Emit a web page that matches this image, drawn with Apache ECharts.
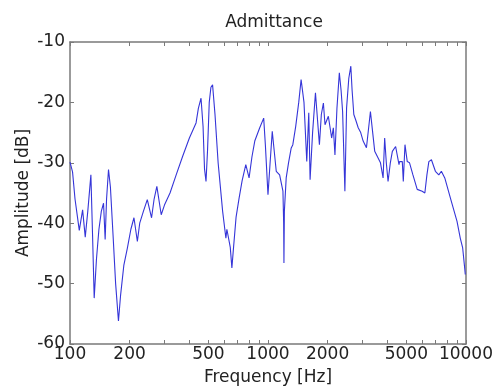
<!DOCTYPE html>
<html>
<head>
<meta charset="utf-8">
<script src="https://cdn.jsdelivr.net/npm/echarts@6/dist/echarts.min.js"></script>
<style>html,body{margin:0;padding:0;background:#fff}#c{width:496px;height:392px}</style>
</head>
<body>
<div id="c"></div>
<script>
var titleText = 'Admittance';
var xName = 'Frequency [Hz]';
var yName = 'Amplitude [dB]';
var xLabelValues = [100, 200, 500, 1000, 2000, 5000, 10000];
var xTickValues = [100, 200, 300, 400, 500, 600, 700, 800, 900, 1000, 2000, 3000, 4000, 5000, 6000, 7000, 8000, 9000, 10000];
var freqs = [100, 103, 106, 111.4, 115.8, 119.4, 123, 127.5, 130, 132.5, 136, 140, 144, 147.7, 150.5, 153, 156.5, 160, 165, 170, 175.7, 180, 187, 195, 203, 210.4, 214.6, 218.9, 225, 235, 245.7, 258.2, 266, 274.6, 288.9, 300, 320, 343.8, 370, 400.9, 420, 433.2, 445, 459, 470, 478, 486.4, 495, 505, 515, 525, 540, 560, 590, 613, 620, 631.8, 645, 657.1, 670, 690, 715, 740, 772.6, 802.6, 830, 857.6, 908.5, 951.4, 970, 1000, 1025, 1051, 1075, 1101, 1145, 1190, 1200, 1204, 1210, 1236, 1270, 1309, 1335, 1380, 1430, 1470, 1520, 1570, 1607, 1632, 1680, 1737, 1763, 1819, 1860, 1905, 1941, 2018, 2097, 2139, 2179, 2230, 2293, 2340, 2382, 2446, 2495, 2560, 2621, 2660, 2714, 2780, 2856, 2940, 3025, 3143, 3292, 3380, 3461, 3600, 3700, 3814, 3885, 3960, 4041, 4150, 4248, 4413, 4590, 4620, 4769, 4825, 4920, 5052, 5188, 5397, 5672, 6009, 6200, 6350, 6494, 6693, 7008, 7290, 7513, 7816, 8340, 9013, 9364, 9625, 9851, 9920, 10000];
var amps = [-29.9, -31.5, -36, -41.2, -37.8, -42.3, -38, -32.0, -42, -52.4, -46, -41, -38, -36.7, -42.7, -36, -31.1, -34, -42, -50, -56.2, -52, -47, -44.1, -41, -39.1, -38.9, -43.0, -40, -38, -36.1, -39.1, -36, -33.9, -38.6, -37, -35, -32.0, -29, -25.9, -24.4, -23.4, -21, -19.3, -24, -31, -33.1, -28, -20, -17.5, -17.1, -22, -30, -38, -42.5, -41, -40.8, -44, -47.4, -44, -39, -35.8, -33, -30.3, -32.5, -29, -26.4, -24.2, -22.6, -27, -35.3, -30, -24.8, -28, -31.4, -32.0, -34.7, -40, -46.6, -38, -32.5, -30, -27.6, -27.0, -24, -20, -16.2, -20, -29.8, -21.7, -32.8, -25, -18.4, -18.4, -27.0, -22, -20.1, -23.7, -22.3, -25.9, -24.2, -28.7, -21, -15.1, -18, -21.5, -34.7, -20.9, -16, -14.0, -18, -22.0, -23, -24.2, -25, -26.4, -27.5, -21.5, -25, -28.1, -29.2, -30, -32.5, -25.9, -30, -33.1, -30, -28.1, -27.3, -30.3, -29.8, -29.8, -33.1, -27.0, -29.8, -30.0, -32.0, -34.4, -34.7, -35.0, -32, -29.8, -29.5, -31.4, -32.0, -31.4, -32.5, -35.8, -39.7, -42.5, -44.1, -47.4, -48.5, -48.5];

var data = freqs.map(function (f, i) { return [f, amps[i]]; });

var fontFam = 'DejaVu Sans';
var axisCol = '#7a7a7a';
var textCol = '#222';

var chart = echarts.init(document.getElementById('c'), null, {renderer: 'canvas'});
var xCommon = {
  type: 'log', logBase: 10, min: 100, max: 10000,
  splitLine: {show: false},
  axisLine: {show: true, lineStyle: {color: axisCol, width: 1.5}},
  axisTick: {show: true, inside: true, length: 4, customValues: xTickValues, lineStyle: {color: axisCol}},
  minorTick: {show: false}
};
var yCommon = {
  type: 'value', min: -60, max: -10, interval: 10,
  splitLine: {show: false},
  axisLine: {show: true, lineStyle: {color: axisCol, width: 1.5}},
  axisTick: {show: true, inside: true, length: 4, lineStyle: {color: axisCol}}
};
chart.setOption({
  animation: false,
  backgroundColor: '#fff',
  title: {
    text: titleText, left: 269, top: 9, textAlign: 'center',
    textStyle: {fontFamily: fontFam, fontSize: 17, fontWeight: 'normal', color: textCol}
  },
  grid: {left: 70, right: 28, top: 42, bottom: 48},
  xAxis: [
    Object.assign({}, xCommon, {
      position: 'bottom',
      name: xName, nameLocation: 'middle', nameGap: 25, nameMoveOverlap: false,
      nameTextStyle: {fontFamily: fontFam, fontSize: 17, color: textCol, verticalAlign: 'top'},
      axisLabel: {show: true, customValues: xLabelValues, margin: 2, fontFamily: fontFam, fontSize: 17, color: textCol,
        formatter: function (v) { return String(Math.round(v)); }}
    }),
    Object.assign({}, xCommon, {position: 'top', axisLabel: {show: false}})
  ],
  yAxis: [
    Object.assign({}, yCommon, {
      position: 'left',
      name: yName, nameLocation: 'middle', nameGap: 38, nameRotate: 90, nameMoveOverlap: false,
      nameTextStyle: {fontFamily: fontFam, fontSize: 17, color: textCol},
      axisLabel: {show: true, margin: 5, fontFamily: fontFam, fontSize: 17, color: textCol}
    }),
    Object.assign({}, yCommon, {position: 'right', axisLabel: {show: false}})
  ],
  series: [{
    type: 'line', xAxisIndex: 0, yAxisIndex: 0,
    data: data, showSymbol: false, smooth: false,
    lineStyle: {color: '#3535d8', width: 1.1},
    itemStyle: {color: '#3535d8'}
  }]
});
</script>
</body>
</html>
